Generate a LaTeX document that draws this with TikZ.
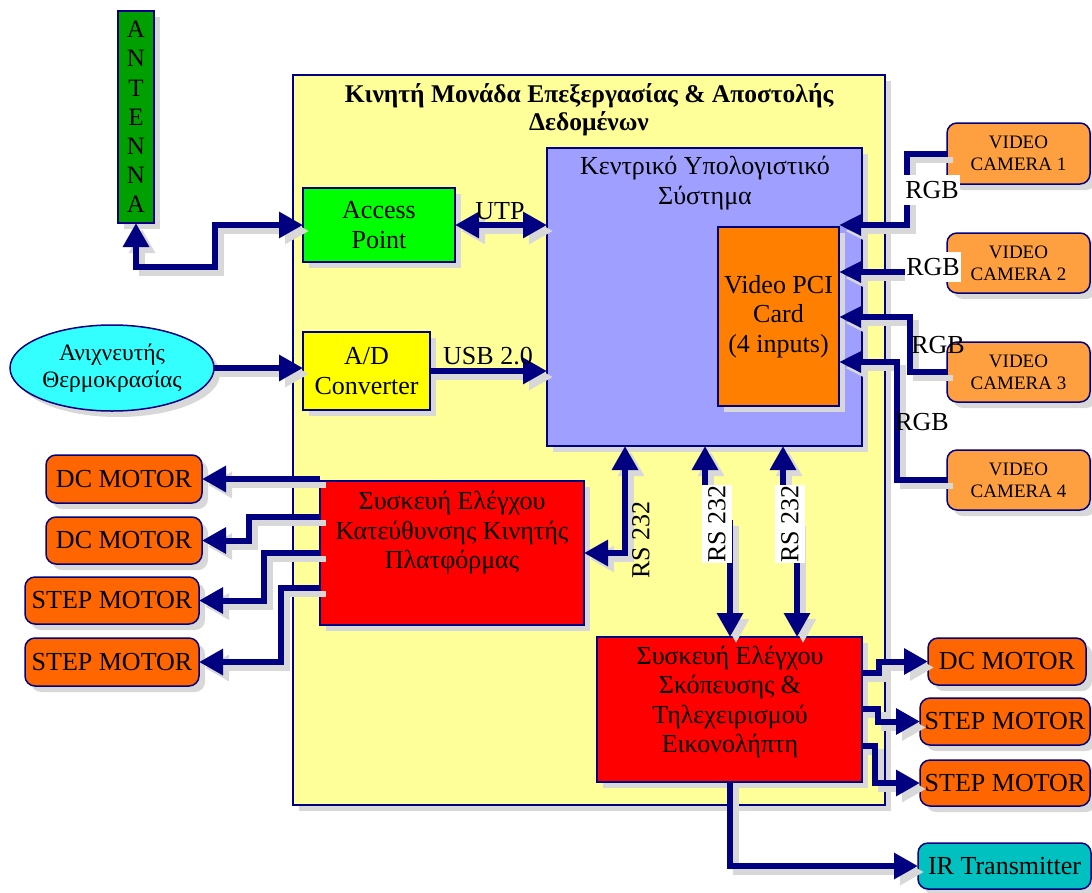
\documentclass[tikz,border=0pt]{standalone}
\usepackage{fontspec}
\setmainfont{Liberation Serif}
\usetikzlibrary{arrows.meta,shadows,shapes.geometric,calc}

\definecolor{navy}{HTML}{000080}
\definecolor{shade}{HTML}{D8D8D8}
\definecolor{panel}{HTML}{FFFF99}
\definecolor{cpublue}{HTML}{9F9FFF}
\definecolor{pcior}{HTML}{FF8000}
\definecolor{apgreen}{HTML}{00FF00}
\definecolor{antgreen}{HTML}{00A000}
\definecolor{adyellow}{HTML}{FFFF00}
\definecolor{motor}{HTML}{FF6600}
\definecolor{camera}{HTML}{FFA040}
\definecolor{irteal}{HTML}{00C0C0}
\definecolor{sensor}{HTML}{33FFFF}

\newcommand\mainfs{\fontsize{26pt}{29.5pt}\selectfont}
\newcommand\titlefs{\fontsize{25.5pt}{28pt}\selectfont\bfseries}
\newcommand\camfs{\fontsize{19pt}{22pt}\selectfont}
\newcommand\sensfs{\fontsize{23.5pt}{27pt}\selectfont}
\newcommand\antfs{\fontsize{25pt}{29.2pt}\selectfont}

\tikzset{
  every node/.style={inner sep=0pt, outer sep=0pt, font=\mainfs},
  shadowed/.style={drop shadow={shadow xshift=6pt, shadow yshift=-6pt, fill=shade, opacity=1}},
  box/.style={draw=navy, line width=1.5pt, shadowed},
  motorbox/.style={box, rounded corners=10pt, fill=motor},
  cambox/.style={box, rounded corners=10pt, fill=camera, font=\camfs, align=center,
                 minimum width=143pt, minimum height=60pt},
  wire/.style={draw=navy, line width=6pt, line join=miter},
  wireshadow/.style={draw=shade, line width=6pt, line join=miter,
                     transform canvas={shift={(6pt,-6pt)}}},
  >={Triangle[length=24pt,width=25pt]},
  camarrow/.style={-{Triangle[length=22pt,width=20pt]}},
  tag/.style={fill=white},
}

% a connector with its grey drop shadow
\newcommand\wire[2][]{\draw[wireshadow,#1]#2; \draw[wire,#1]#2;}

\begin{document}
\begin{tikzpicture}[x=1pt, y=-1pt]
\useasboundingbox (0,0) rectangle (1092,892);
\fill[white] (0,0) rectangle (1092,892);

% mobile unit frame
\node[box, fill=panel, line width=1.2pt, minimum width=592pt, minimum height=730pt] (panel) at (589,440) {};
\node[font=\titlefs, align=center] (title) at (589,110)
  {Κινητή Μονάδα Επεξεργασίας \& Αποστολής\\Δεδομένων};

% antenna
\node[box, fill=antgreen, minimum width=36pt, minimum height=212pt, align=center, font=\antfs] (ant)
  at (136,117) {A\\N\\T\\E\\N\\N\\A};

% access point and A/D converter
\node[box, fill=apgreen, line width=2.5pt, minimum width=152pt, minimum height=74pt, align=center] (ap)
  at (379,225) {Access\\Point};
\node[box, fill=adyellow, minimum width=127pt, minimum height=78pt, align=center] (ad)
  at (366.5,371) {A/D\\Converter};

% temperature sensor
\node[ellipse, draw=navy, line width=1.5pt, fill=sensor, shadowed, minimum width=204pt,
      minimum height=86pt, align=center, font=\sensfs] (temp)
  at (112,368) {Ανιχνευτής\\Θερμοκρασίας};

% central computer and capture card
\node[box, fill=cpublue, minimum width=315pt, minimum height=298pt] (cpu) at (704.5,297) {};
\node[align=center] (cputext) at (705,183) {Κεντρικό Υπολογιστικό\\Σύστημα};
\node[box, fill=pcior, minimum width=121pt, minimum height=179pt, align=center] (pci)
  at (778.5,316.5) {Video PCI\\Card\\(4 inputs)};

% platform steering controller
\node[box, fill=red, minimum width=264pt, minimum height=144pt] (plat) at (452,553) {};
\node[align=center] (plattext) at (452,533)
  {Συσκευή Ελέγχου\\Κατεύθυνσης Κινητής\\Πλατφόρμας};

% camera aiming controller
\node[box, fill=red, minimum width=265pt, minimum height=145pt] (aim) at (729.5,709.5) {};
\node[align=center] (aimtext) at (730,702)
  {Συσκευή Ελέγχου\\Σκόπευσης \&\\Τηλεχειρισμού\\Εικονολήπτη};

% left motors
\node[motorbox, minimum width=156pt, minimum height=48pt] (dcm1) at (124,479) {DC MOTOR};
\node[motorbox, minimum width=156pt, minimum height=47pt] (dcm2) at (124,540.5) {DC MOTOR};
\node[motorbox, minimum width=174pt, minimum height=47pt] (stm1) at (112,600.5) {STEP MOTOR};
\node[motorbox, minimum width=174pt, minimum height=48pt] (stm2) at (112,662) {STEP MOTOR};

% right motors and IR transmitter
\node[motorbox, minimum width=158pt, minimum height=47pt] (dcr) at (1007,661.5) {DC MOTOR};
\node[motorbox, minimum width=170pt, minimum height=47pt] (str1) at (1005,721.5) {STEP MOTOR};
\node[motorbox, minimum width=170pt, minimum height=46pt] (str2) at (1005,783) {STEP MOTOR};
\node[motorbox, fill=irteal, minimum width=173pt, minimum height=46pt] (ir) at (1004.5,866) {IR Transmitter};

% cameras
\node[cambox, minimum height=61pt] (cam1) at (1018.5,153.5) {VIDEO\\CAMERA 1};
\node[cambox] (cam2) at (1018.5,263) {VIDEO\\CAMERA 2};
\node[cambox] (cam3) at (1018.5,372) {VIDEO\\CAMERA 3};
\node[cambox] (cam4) at (1018.5,480) {VIDEO\\CAMERA 4};

% connectors
\wire[<->]{(ant.south) |- (215,267) |- (ap.west)}
\wire[<->]{(ap.east) -- (ap.east -| cpu.west)}
\wire[->]{(temp.east) -- (temp.east -| ad.west)}
\wire[->]{(ad.east) -- (ad.east -| cpu.west)}

\wire[camarrow]{(cam1.west) -| (907,225) -- (pci.east |- 0,225)}
\wire[camarrow]{(cam2.west |- 0,272) -- (pci.east |- 0,272)}
\wire[camarrow]{(cam3.west) -| (910,317) -- (pci.east |- 0,317)}
\wire[camarrow]{(cam4.west) -| (897,362) -- (pci.east |- 0,362)}

\wire[->]{(plat.west |- dcm1.east) -- (dcm1.east)}
\wire[->]{(plat.west |- 0,517) -| (249,540.5) -- (dcm2.east)}
\wire[->]{(plat.west |- 0,553) -| (264,600.5) -- (stm1.east)}
\wire[->]{(plat.west |- 0,588) -| (281,662) -- (stm2.east)}

\wire[<->]{(cpu.south -| 625,0) |- (plat.east)}
\wire[<->]{(cpu.south -| 705,0) |- (730,523) -- (aim.north -| 730,0)}
\wire[<->]{(cpu.south -| 783,0) |- (797,523) -- (aim.north -| 797,0)}

\wire[->]{(aim.east |- 0,673) -| (879,661.5) -- (dcr.west)}
\wire[->]{(aim.east |- 0,709) -| (878,721.5) -- (str1.west)}
\wire[->]{(aim.east |- 0,746) -| (875,783) -- (str2.west)}
\wire[->]{(aim.south) |- (ir.west)}

% connector labels
\node (utp) at (500,211) {UTP};
\node (usb) at (488,356) {USB 2.0};
\node[tag, inner xsep=1pt, minimum height=30pt] (rgb1) at (932,190) {RGB};
\node[tag, inner xsep=1pt, minimum height=30pt] (rgb2) at (933,267) {RGB};
\node (rgb3) at (938,345) {RGB};
\node (rgb4) at (922,422) {RGB};
\node[rotate=90] (rs1) at (641,540) {RS 232};
\node[tag, rotate=90, minimum width=78pt, minimum height=30pt] (rs2) at (717,524) {RS 232};
\node[tag, rotate=90, minimum width=78pt, minimum height=30pt] (rs3) at (790,524) {RS 232};
\end{tikzpicture}
\end{document}
